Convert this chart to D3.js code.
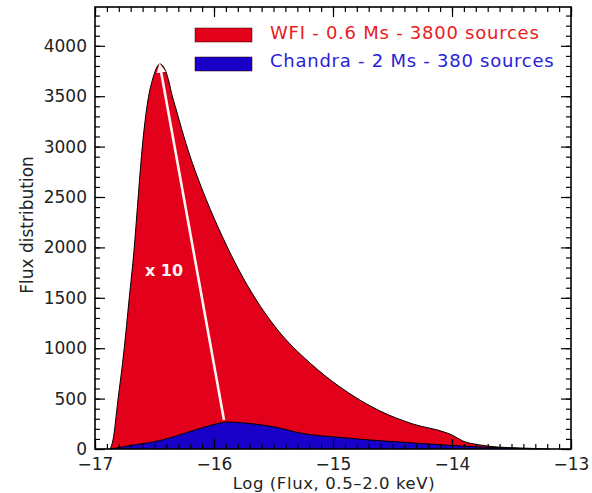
<!DOCTYPE html>
<html>
<head>
<meta charset="utf-8">
<script src="https://cdn.jsdelivr.net/npm/d3@7"></script>
<style>
  body { margin: 0; background: #fff; }
  text { font-family: "DejaVu Sans", sans-serif; }
</style>
</head>
<body>
<div id="chart"></div>
<script>
// WFI curve (log flux, distribution)
const wfiFlux = [-16.874, -16.849, -16.807, -16.756, -16.714, -16.672, -16.639, -16.605, -16.555, -16.513, -16.479, -16.454,
  -16.429, -16.403, -16.378, -16.353, -16.319, -16.286, -16.218, -16.067, -15.924, -15.782, -15.655, -15.471, -15.193,
  -14.941, -14.605, -14.328, -14.042, -14.0, -13.908, -13.765, -13.622, -13.43, -13.18];
const wfiValues = [0, 89, 486, 982, 1478, 1974, 2470, 2966, 3462, 3680, 3790, 3820,
  3799, 3740, 3641, 3512, 3373, 3234, 2966, 2480, 2093, 1756, 1498, 1190, 853,
  615, 377, 248, 159, 139, 79, 40, 20, 10, 0];

// Chandra curve
const chandraFlux = [-16.874, -16.723, -16.437, -16.16, -16.017, -15.882, -15.739, -15.597, -15.445, -15.319, -14.882, -14.328, -13.765, -13.26];
const chandraValues = [0, 30, 89, 188, 238, 268, 258, 238, 208, 169, 109, 60, 20, 0];

const xTicks = [-17, -16, -15, -14, -13];
const yTicks = [0, 500, 1000, 1500, 2000, 2500, 3000, 3500, 4000];

const legendLabels = ["WFI - 0.6 Ms - 3800 sources", "Chandra - 2 Ms - 380 sources"];
const arrowFrom = [-15.916, 288];
const arrowTo = [-16.452, 3790];

let margin = {top: 7, right: 21, bottom: 44, left: 95};
let width = 592 - margin.left - margin.right;
let height = 493 - margin.top - margin.bottom;

const red = "#e2001a", blue = "#1800c8";

let svg = d3.select("#chart").append("svg")
    .attr("width", 592)
    .attr("height", 493)
    .append("g")
    .attr("transform", "translate(" + margin.left + "," + margin.top + ")");

let x = d3.scaleLinear().domain([-17, -13]).range([0, width]);
let y = d3.scaleLinear().domain([0, 4385]).range([height, 0]);

let area = d3.area()
    .x(d => x(d[0]))
    .y0(height)
    .y1(d => y(d[1]))
    .curve(d3.curveMonotoneX);
let line = d3.line()
    .x(d => x(d[0]))
    .y(d => y(d[1]))
    .curve(d3.curveMonotoneX);

const wfi = wfiFlux.map((f, i) => [f, wfiValues[i]]);
const chandra = chandraFlux.map((f, i) => [f, chandraValues[i]]);

svg.append("path").datum(wfi).attr("d", area).attr("fill", red);
svg.append("path").datum(wfi).attr("d", line).attr("fill", "none").attr("stroke", "#000").attr("stroke-width", 1);
svg.append("path").datum(chandra).attr("d", area).attr("fill", blue);
svg.append("path").datum(chandra).attr("d", line).attr("fill", "none").attr("stroke", "#000").attr("stroke-width", 1);

// arrow "x 10"
svg.append("defs").append("marker")
    .attr("id", "head")
    .attr("viewBox", "0 0 10 10")
    .attr("refX", 6).attr("refY", 5)
    .attr("markerWidth", 3.6).attr("markerHeight", 3.6)
    .attr("orient", "auto")
    .append("path").attr("d", "M0,0 L10,5 L0,10 z").attr("fill", "#fff4f4");
svg.append("line")
    .attr("x1", x(arrowFrom[0])).attr("y1", y(arrowFrom[1]))
    .attr("x2", x(arrowTo[0])).attr("y2", y(arrowTo[1]))
    .attr("stroke", "#fff4f4").attr("stroke-width", 2.6)
    .attr("marker-end", "url(#head)");
svg.append("text")
    .attr("x", x(-16.42)).attr("y", y(1720))
    .attr("text-anchor", "middle")
    .style("font-size", "16px").style("font-weight", "bold")
    .attr("fill", "#fff4f4")
    .text("x 10");

// inward ticks on all four sides
const minorX = d3.range(-17, -12.95, 0.1);
const minorY = d3.range(0, 4385, 100);
function ticks(g, axis, scale, values, len) {
  g.call(axis(scale).tickValues(values).tickSize(-len).tickFormat("").tickSizeOuter(0))
   .call(s => s.select(".domain").remove())
   .selectAll("line").attr("stroke", "#000").attr("stroke-width", 1.2);
}
svg.append("g").attr("transform", "translate(0," + height + ")").call(ticks, d3.axisBottom, x, minorX, 5);
svg.append("g").attr("transform", "translate(0," + height + ")").call(ticks, d3.axisBottom, x, xTicks, 10);
svg.append("g").call(ticks, d3.axisTop, x, minorX, 5);
svg.append("g").call(ticks, d3.axisTop, x, xTicks, 10);
svg.append("g").call(ticks, d3.axisLeft, y, minorY, 5);
svg.append("g").call(ticks, d3.axisLeft, y, yTicks, 10);
svg.append("g").attr("transform", "translate(" + width + ",0)").call(ticks, d3.axisRight, y, minorY, 5);
svg.append("g").attr("transform", "translate(" + width + ",0)").call(ticks, d3.axisRight, y, yTicks, 10);

// tick labels
let xa = svg.append("g").attr("transform", "translate(0," + height + ")")
    .call(d3.axisBottom(x).tickValues(xTicks).tickSize(0).tickPadding(9).tickFormat(d3.format("d")));
xa.select(".domain").remove();
xa.selectAll("text").style("font-size", "17px").attr("fill", "#222");

let ya = svg.append("g")
    .call(d3.axisLeft(y).tickValues(yTicks).tickSize(0).tickPadding(8).tickFormat(d3.format("d")));
ya.select(".domain").remove();
ya.selectAll("text").style("font-size", "17px").attr("fill", "#222");

// frame
svg.append("rect").attr("width", width).attr("height", height)
    .attr("fill", "none").attr("stroke", "#000").attr("stroke-width", 1.6);

// axis titles
svg.append("text")
    .attr("transform", "rotate(-90)")
    .attr("x", -height / 2 + 3).attr("y", -62)
    .style("text-anchor", "middle").style("font-size", "17px").attr("fill", "#222")
    .text("Flux distribution");
svg.append("text")
    .attr("x", width / 2 + 1).attr("y", height + 40)
    .style("text-anchor", "middle").style("font-size", "16.5px").style("letter-spacing", "0.6px").attr("fill", "#222")
    .text("Log (Flux, 0.5–2.0 keV)");

// legend
const legendColors = [red, blue];
const textColors = ["#e8201c", "#2a22d8"];
legendLabels.forEach((lab, i) => {
  svg.append("rect").attr("x", 100).attr("y", 21 + i * 29).attr("width", 57).attr("height", 14)
      .attr("fill", legendColors[i]).attr("stroke", "#300").attr("stroke-width", 0.5);
  svg.append("text").attr("x", 175).attr("y", 32 + i * 28)
      .style("font-size", "18px").style("letter-spacing", "0.75px").attr("fill", textColors[i]).text(lab);
});
</script>
</body>
</html>
